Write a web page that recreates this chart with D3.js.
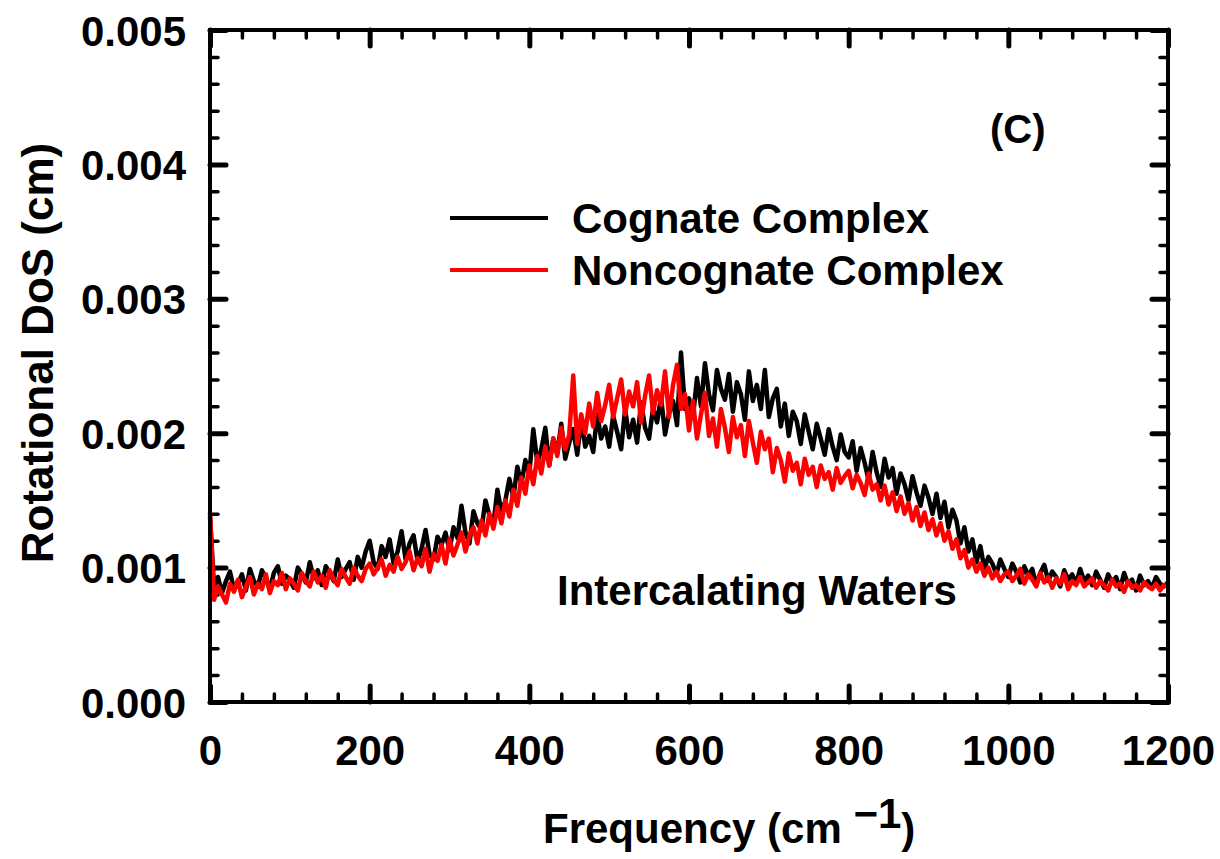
<!DOCTYPE html>
<html><head><meta charset="utf-8">
<script src="https://cdn.jsdelivr.net/npm/d3@7"></script>
<style>
html,body{margin:0;padding:0;background:#fff;}
svg text{font-family:"Liberation Sans",Arial,sans-serif;font-weight:bold;fill:#000;}
</style></head>
<body>
<svg id="chart" width="1220" height="859"></svg>
<script>
// Data (values in units of 1e-5 cm), sampled every 5 cm^-1 from 0 to 1200
const freqStep = 5;
const cognate = [
138,86,93,81,90,97,84,88,95,83,99,90,86,98,92,84,96,101,88,94,
91,85,100,95,89,104,92,98,87,101,96,90,106,93,99,104,91,108,100,112,
120,104,99,116,108,121,103,112,127,106,118,124,105,114,128,110,106,123,117,126,
113,130,122,146,126,118,142,133,128,150,139,132,158,141,150,166,152,175,162,180,
170,203,178,188,204,176,196,185,207,181,193,203,184,211,190,198,186,214,196,205,
190,213,201,188,218,197,210,193,223,204,196,219,208,227,199,215,224,206,260,218,
226,212,241,220,252,229,217,247,233,225,244,216,238,229,210,246,224,236,218,247,
212,226,233,205,222,198,216,209,192,214,201,188,207,196,184,203,190,180,199,186,
182,194,172,189,178,165,186,171,160,181,167,174,155,170,162,150,168,156,146,161,
152,140,155,137,149,130,143,135,118,130,112,121,104,116,99,108,103,95,106,99,
93,103,97,89,101,94,99,87,96,102,90,97,93,86,98,91,95,88,99,90,
94,87,97,91,85,95,89,93,84,96,88,91,83,94,87,90,85,93,88,86,
89];
const noncognate = [
141,76,86,80,74,88,82,91,78,86,93,80,88,84,95,81,90,87,96,84,
92,88,83,96,90,86,97,89,94,85,98,91,87,99,93,88,100,94,90,99,
103,95,100,106,94,102,97,108,99,104,112,98,107,101,114,97,110,105,117,103,
121,109,117,126,112,124,130,118,135,124,140,129,145,133,150,138,158,146,167,155,
176,162,183,170,190,176,196,183,204,188,199,243,192,214,200,222,205,230,209,221,
236,212,226,240,214,231,220,238,208,228,243,215,232,221,246,212,236,251,218,229,
202,224,196,214,230,198,211,190,218,204,186,212,197,206,183,209,193,178,201,188,
196,171,189,180,164,185,172,178,162,181,169,175,160,176,166,171,158,174,163,168,
172,159,169,163,154,170,158,162,150,161,147,156,142,153,140,148,135,145,131,141,
128,136,124,133,120,127,114,121,107,113,100,106,97,103,94,100,92,97,90,95,
97,90,94,99,88,95,91,86,96,89,93,85,92,88,95,84,90,87,93,86,
89,92,85,90,87,83,91,86,88,82,90,85,87,83,89,86,84,88,83,87,
86];
const seriesNames = ["Cognate Complex", "Noncognate Complex"];
const seriesColors = ["#000000", "#ff0000"];
const xTicks = [0,200,400,600,800,1000,1200];
const yTicks = [0.000,0.001,0.002,0.003,0.004,0.005];

const svg = d3.select("#chart");
const L = 210, R = 1168, T = 30, B = 702;
const x = d3.scaleLinear().domain([0,1200]).range([L,R]);
const y = d3.scaleLinear().domain([0,0.005]).range([B,T]);

const xMinor = d3.range(0,1201,40).filter(v => v % 200 !== 0);
const yMinor = d3.range(0,51,2).map(v => v/10000).filter((v,i) => i % 5 !== 0);

function styleAxis(g, w){
  g.select(".domain").remove();
  g.selectAll(".tick line").attr("stroke","#000").attr("stroke-width",w).attr("stroke-linecap","round");
}
// minor ticks, all four sides
svg.append("g").attr("transform",`translate(0,${B})`).call(d3.axisBottom(x).tickValues(xMinor).tickSize(-8).tickFormat("")).call(g=>styleAxis(g,3.5));
svg.append("g").attr("transform",`translate(0,${T})`).call(d3.axisTop(x).tickValues(xMinor).tickSize(-8).tickFormat("")).call(g=>styleAxis(g,3.5));
svg.append("g").attr("transform",`translate(${L},0)`).call(d3.axisLeft(y).tickValues(yMinor).tickSize(-8).tickFormat("")).call(g=>styleAxis(g,3.5));
svg.append("g").attr("transform",`translate(${R},0)`).call(d3.axisRight(y).tickValues(yMinor).tickSize(-8).tickFormat("")).call(g=>styleAxis(g,3.5));
// major ticks
const xb = svg.append("g").attr("transform",`translate(0,${B})`).call(d3.axisBottom(x).tickValues(xTicks).tickSize(-16).tickPadding(0).tickFormat(d3.format("d"))).call(g=>styleAxis(g,5));
xb.selectAll(".tick text").attr("font-size",42).attr("y",63).attr("dy",0);
svg.append("g").attr("transform",`translate(0,${T})`).call(d3.axisTop(x).tickValues(xTicks).tickSize(-16).tickFormat("")).call(g=>styleAxis(g,5));
const yl = svg.append("g").attr("transform",`translate(${L},0)`).call(d3.axisLeft(y).tickValues(yTicks).tickSize(-16).tickFormat(d3.format(".3f"))).call(g=>styleAxis(g,5));
yl.selectAll(".tick text").attr("font-size",42).attr("x",-24).attr("dy","0.36em");
svg.append("g").attr("transform",`translate(${R},0)`).call(d3.axisRight(y).tickValues(yTicks).tickSize(-16).tickFormat("")).call(g=>styleAxis(g,5));

// series
const line = d3.line().x((d,i)=>x(i*freqStep)).y(d=>y(d*1e-5));
[cognate, noncognate].forEach((s,k)=>{
  svg.append("path").datum(s).attr("d",line).attr("fill","none")
    .attr("stroke",seriesColors[k]).attr("stroke-width",4.5).attr("stroke-linejoin","round");
});

// frame
svg.append("rect").attr("x",L).attr("y",T).attr("width",R-L).attr("height",B-T)
  .attr("fill","none").attr("stroke","#000").attr("stroke-width",4);

// legend
seriesNames.forEach((n,k)=>{
  const ly = 218 + k*52;
  svg.append("line").attr("x1",450).attr("x2",548).attr("y1",ly).attr("y2",ly)
    .attr("stroke",seriesColors[k]).attr("stroke-width",4);
  svg.append("text").attr("x",572).attr("y",ly+15).attr("font-size",42).text(n);
});

// annotations
svg.append("text").attr("x",990).attr("y",143).attr("font-size",40).text("(C)");
svg.append("text").attr("x",557).attr("y",605).attr("font-size",42).text("Intercalating Waters");

// axis titles
svg.append("text").attr("transform","translate(53,353) rotate(-90)").attr("text-anchor","middle")
  .attr("font-size",44).text("Rotational DoS (cm)");
const xt = svg.append("text").attr("x",543).attr("y",843).attr("font-size",42);
xt.append("tspan").text("Frequency (cm ");
xt.append("tspan").attr("dy",-15).text("\u22121");
xt.append("tspan").attr("dy",15).text(")");
</script>
</body></html>
